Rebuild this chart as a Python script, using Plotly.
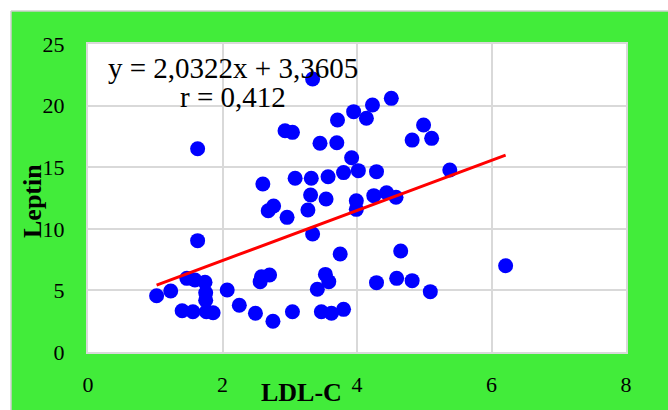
import plotly.graph_objects as go

# LDL-C (x) vs Leptin (y) observations
ldl_c = [1.02, 1.23, 1.47, 1.59, 1.74, 1.75, 1.75, 1.40, 1.56, 1.76, 1.86, 1.63, 1.63,
         2.07, 2.25, 2.49, 2.75, 2.56, 2.58, 2.70, 2.60, 2.68, 2.76, 2.96, 2.93, 3.04,
         3.04, 3.08, 3.27, 3.31, 3.32, 3.34, 3.34, 3.41, 3.45, 3.47, 3.53, 3.54, 3.57,
         3.58, 3.62, 3.70, 3.71, 3.75, 3.80, 3.80, 3.92, 3.95, 3.99, 3.99, 4.02, 4.14,
         4.23, 4.25, 4.29, 4.29, 4.44, 4.51, 4.58, 4.59, 4.65, 4.82, 4.82, 4.99, 5.09,
         5.11, 5.38, 6.21]
leptin = [4.57, 4.95, 5.98, 5.84, 5.66, 4.80, 4.20, 3.35, 3.27, 3.27, 3.19, 9.04, 16.5,
          5.03, 3.79, 3.14, 2.49, 5.71, 6.11, 6.25, 13.64, 11.47, 11.85, 10.93, 17.96, 17.83,
          3.27, 14.10, 11.53, 12.74, 14.10, 9.58, 22.16, 5.09, 16.94, 3.27, 6.30, 12.42, 14.23,
          5.71, 3.14, 16.99, 18.83, 7.95, 3.46, 14.56, 15.77, 19.51, 12.28, 11.58, 14.72, 18.97,
          20.05, 12.69, 14.64, 5.63, 12.93, 20.59, 12.56, 5.98, 8.20, 17.20, 5.79, 18.42, 4.90,
          17.34, 14.77, 7.00]

# Linear trendline coefficients and correlation
slope = 2.0322
intercept = 3.3605
r_value = 0.412

x_ticks = [0, 2, 4, 6, 8]
y_ticks = [0, 5, 10, 15, 20, 25]

W, H = 668, 410
ML, MR, MT, MB = 88, 42, 44, 58
PW, PH = W - ML - MR, H - MT - MB

GREEN = "#42ec3a"
GRID = "#d9d9d9"
SERIF = "Liberation Serif, Times New Roman, serif"


def px_x(px):
    return (px - ML) / PW


def px_y(py):
    return (H - MB - py) / PH


def fmt(v, nd):
    return f"{v:.{nd}f}".replace(".", ",")


x_line = [min(ldl_c), max(ldl_c)]
y_line = [slope * v + intercept for v in x_line]

fig = go.Figure()
fig.add_trace(go.Scatter(
    x=ldl_c, y=leptin, mode="markers",
    marker=dict(color="#0000ff", size=15, line=dict(width=0)),
    showlegend=False,
))
fig.add_trace(go.Scatter(
    x=x_line, y=y_line, mode="lines",
    line=dict(color="#ff0000", width=3),
    showlegend=False,
))

shapes = [
    # white strips along top and left edges of the page
    dict(type="rect", xref="paper", yref="paper", x0=px_x(0), x1=px_x(W), y0=px_y(11), y1=px_y(0),
         fillcolor="white", line=dict(width=0), layer="below"),
    dict(type="rect", xref="paper", yref="paper", x0=px_x(0), x1=px_x(11), y0=px_y(H), y1=px_y(0),
         fillcolor="white", line=dict(width=0), layer="below"),
    # thin grey border of the green frame
    dict(type="line", xref="paper", yref="paper", x0=px_x(11), x1=px_x(W), y0=px_y(11), y1=px_y(11),
         line=dict(color="#cfcfcf", width=1.5), layer="below"),
    dict(type="line", xref="paper", yref="paper", x0=px_x(11), x1=px_x(11), y0=px_y(11), y1=px_y(H),
         line=dict(color="#cfcfcf", width=1.5), layer="below"),
]

annotations = [
    dict(text=f"y = {fmt(slope, 4)}x + {fmt(intercept, 4)}", xref="paper", yref="paper",
         x=px_x(233), y=px_y(68), showarrow=False, xanchor="center", yanchor="middle",
         font=dict(family=SERIF, size=29, color="black")),
    dict(text=f"r = {fmt(r_value, 3)}", xref="paper", yref="paper",
         x=px_x(233), y=px_y(97), showarrow=False, xanchor="center", yanchor="middle",
         font=dict(family=SERIF, size=29, color="black")),
    dict(text="<b>Leptin</b>", xref="paper", yref="paper", textangle=-90,
         x=px_x(32), y=px_y(201), showarrow=False, xanchor="center", yanchor="middle",
         font=dict(family=SERIF, size=26, color="black")),
    dict(text="<b>LDL-C</b>", xref="paper", yref="paper",
         x=px_x(301), y=px_y(392), showarrow=False, xanchor="center", yanchor="middle",
         font=dict(family=SERIF, size=26, color="black")),
]

fig.update_layout(
    width=W, height=H,
    margin=dict(l=ML, r=MR, t=MT, b=MB, pad=0),
    paper_bgcolor=GREEN, plot_bgcolor="white",
    shapes=shapes, annotations=annotations,
    xaxis=dict(range=[0, 8], tickvals=x_ticks, showgrid=True, gridcolor=GRID, gridwidth=2,
               zeroline=False, showline=True, linecolor=GRID, linewidth=2, mirror=True,
               ticks="", ticklabelstandoff=12,
               tickfont=dict(family=SERIF, size=22, color="black")),
    yaxis=dict(range=[0, 25], tickvals=y_ticks, showgrid=True, gridcolor=GRID, gridwidth=2,
               zeroline=False, showline=True, linecolor=GRID, linewidth=2, mirror=True,
               ticks="", ticklabelstandoff=17,
               tickfont=dict(family=SERIF, size=22, color="black")),
)

fig.write_html("out.html")
